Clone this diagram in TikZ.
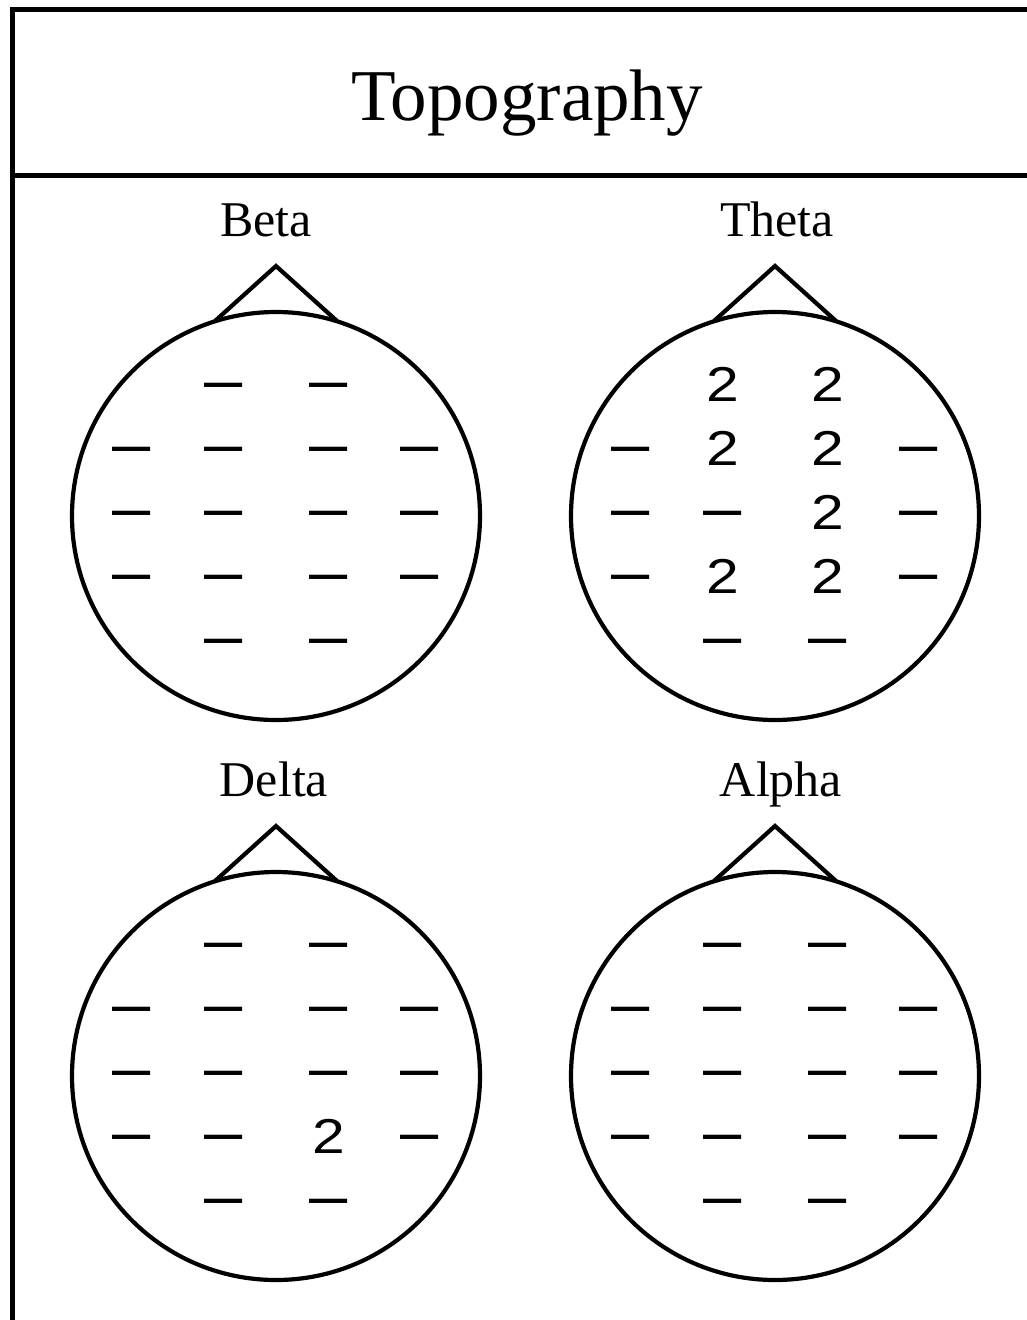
\documentclass[tikz,border=0pt]{standalone}
\usepackage{fontspec}
\setmainfont{Liberation Serif}
\newfontfamily\chanfont{Liberation Sans}
\begin{document}
\begin{tikzpicture}[x=1pt,y=-1pt,
  frameline/.style={line width=5pt},
  headline/.style={line width=4.2pt},
  headtitle/.style={anchor=base,inner sep=0pt,font=\fontsize{50}{50}\selectfont},
  nilmark/.style={inner sep=0pt,anchor=center,text height=26.6pt,text depth=0pt,
    xscale=1.4,yscale=1.3,font=\chanfont\fontsize{49}{49}\selectfont,node contents={–}},
  twomark/.style={inner sep=0pt,anchor=center,text height=35pt,text depth=0pt,
    xscale=1.2,font=\chanfont\fontsize{49}{49}\selectfont,node contents={2}}]
\useasboundingbox (0,0) rectangle (1027,1320);
\clip (0,0) rectangle (1027,1320);

% electrode layout relative to the head centre
\def\colx{{-52.5,53,-144,-52.5,53,144,-144,-52.5,53,144,-144,-52.5,53,144,-52.5,53}}
\def\rowy{{-132,-132,-68,-68,-68,-68,-4,-4,-4,-4,60,60,60,60,124,124}}

% head outline with nose
\newcommand\headshape[3]{%
  \draw[headline] (#2,#3) circle[radius=204];
  \draw[headline] ({#2-61},{#3-195}) -- coordinate (#1-nose) ({#2},{#3-250}) -- ({#2+61},{#3-195});
}
% channel marks of one head
\newcommand\channels[4]{%
  \foreach \m [count=\i from 0] in {#4} {
    \pgfmathsetmacro\ox{\colx[\i]}
    \pgfmathsetmacro\oy{\rowy[\i]}
    \node (#1-\i) at ({#2+\ox},{#3+\oy}) [\m mark];
  }
}

% frame and heading
\draw[frameline] (1040,9.5) -- (12.5,9.5) -- (12.5,1340);
\draw[frameline] (12.5,175.5) -- (1040,175.5);
\node[anchor=base,inner sep=0pt,font=\fontsize{73}{73}\selectfont] (title) at (527,120) {Topography};

% Beta
\node[headtitle] (beta) at (266,236) {Beta};
\headshape{betahead}{276}{516}
\channels{betach}{276}{516}{nil,nil,nil,nil,nil,nil,nil,nil,nil,nil,nil,nil,nil,nil,nil,nil}

% Theta
\node[headtitle] (theta) at (777,236) {Theta};
\headshape{thetahead}{775}{516}
\channels{thetach}{775}{516}{two,two,nil,two,two,nil,nil,nil,two,nil,nil,two,two,nil,nil,nil}

% Delta
\node[headtitle] (delta) at (274,796) {Delta};
\headshape{deltahead}{276}{1076}
\channels{deltach}{276}{1076}{nil,nil,nil,nil,nil,nil,nil,nil,nil,nil,nil,nil,two,nil,nil,nil}

% Alpha
\node[headtitle] (alpha) at (781,796) {Alpha};
\headshape{alphahead}{775}{1076}
\channels{alphach}{775}{1076}{nil,nil,nil,nil,nil,nil,nil,nil,nil,nil,nil,nil,nil,nil,nil,nil}
\end{tikzpicture}
\end{document}
